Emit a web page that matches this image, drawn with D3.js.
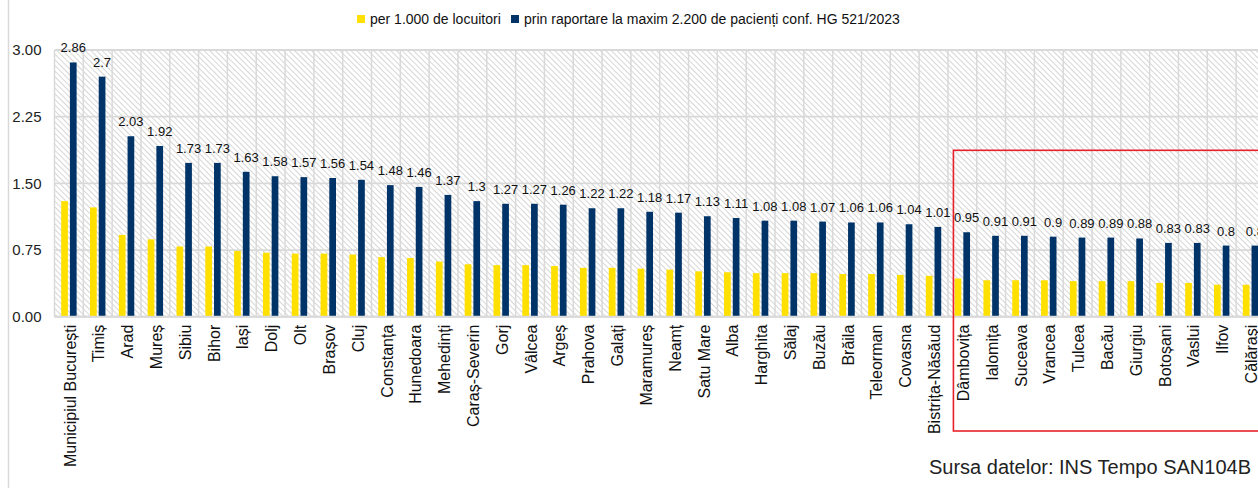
<!DOCTYPE html>
<html>
<head>
<meta charset="utf-8">
<script src="https://cdn.jsdelivr.net/npm/d3@7"></script>
<style>
  body { margin: 0; background: #fff; }
  svg { display: block; font-family: "Liberation Sans", Arial, sans-serif; }
</style>
</head>
<body>
<script>
// judete, ordonate descrescator
var categories = ["Municipiul București", "Timiș", "Arad", "Mureș", "Sibiu", "Bihor", "Iași", "Dolj", "Olt", "Brașov",
    "Cluj", "Constanța", "Hunedoara", "Mehedinți", "Caraș-Severin", "Gorj", "Vâlcea", "Argeș", "Prahova", "Galați",
    "Maramureș", "Neamț", "Satu Mare", "Alba", "Harghita", "Sălaj", "Buzău", "Brăila", "Teleorman", "Covasna",
    "Bistrița-Năsăud", "Dâmbovița", "Ialomița", "Suceava", "Vrancea", "Tulcea", "Bacău", "Giurgiu", "Botoșani", "Vaslui",
    "Ilfov", "Călărași"];

// per 1.000 de locuitori
var perThousand = [1.30, 1.23, 0.92, 0.87, 0.79, 0.79, 0.74, 0.72, 0.71, 0.71,
    0.70, 0.67, 0.66, 0.62, 0.59, 0.58, 0.58, 0.57, 0.55, 0.55,
    0.54, 0.53, 0.51, 0.50, 0.49, 0.49, 0.49, 0.48, 0.48, 0.47,
    0.46, 0.43, 0.41, 0.41, 0.41, 0.40, 0.40, 0.40, 0.38, 0.38,
    0.36, 0.36];

// prin raportare la maxim 2.200 de pacienti
var perMax = [2.86, 2.7, 2.03, 1.92, 1.73, 1.73, 1.63, 1.58, 1.57, 1.56,
    1.54, 1.48, 1.46, 1.37, 1.3, 1.27, 1.27, 1.26, 1.22, 1.22,
    1.18, 1.17, 1.13, 1.11, 1.08, 1.08, 1.07, 1.06, 1.06, 1.04,
    1.01, 0.95, 0.91, 0.91, 0.9, 0.89, 0.89, 0.88, 0.83, 0.83,
    0.8, 0.8];

var yTicks = [0, 0.75, 1.5, 2.25, 3];
var seriesNames = ["per 1.000 de locuitori", "prin raportare la maxim 2.200 de pacienți conf. HG 521/2023"];
var colors = ["#ffe000", "#003468"];

var width = 1258, height = 488;
var plotLeft = 54.5, plotTop = 50, plotBottom = 316.7, step = 28.82;

var svg = d3.select("body").append("svg")
    .attr("width", width)
    .attr("height", height);

// hasura fundal
var defs = svg.append("defs");
defs.append("pattern")
    .attr("id", "hatch")
    .attr("patternUnits", "userSpaceOnUse")
    .attr("width", 4)
    .attr("height", 4)
    .attr("patternTransform", "rotate(-45)")
    .append("line")
    .attr("x1", 0.5).attr("y1", 0).attr("x2", 0.5).attr("y2", 4)
    .attr("stroke", "#d6d6d6")
    .attr("stroke-width", 1);

var x = d3.scaleBand()
    .domain(categories)
    .range([plotLeft, plotLeft + step * categories.length])
    .padding(0);

var x1 = d3.scaleBand()
    .domain([0, 1])
    .range([6.7, x.bandwidth() - 6.7])
    .paddingInner(0.23);

var y = d3.scaleLinear()
    .domain([0, 3])
    .range([plotBottom, plotTop]);

// rama stanga
svg.append("line")
    .attr("x1", 8.5).attr("x2", 8.5)
    .attr("y1", 0).attr("y2", height)
    .attr("stroke", "#d9d9d9")
    .attr("stroke-width", 1.5);

svg.append("rect")
    .attr("x", plotLeft).attr("y", plotTop)
    .attr("width", x.range()[1] - plotLeft)
    .attr("height", plotBottom - plotTop)
    .attr("fill", "url(#hatch)");

// grila
svg.append("g")
    .selectAll("line")
    .data(yTicks)
    .enter().append("line")
    .attr("x1", plotLeft).attr("x2", x.range()[1])
    .attr("y1", function (d) { return y(d); })
    .attr("y2", function (d) { return y(d); })
    .attr("stroke", "#d9d9d9")
    .attr("stroke-width", 1.8);

svg.append("g")
    .selectAll("line")
    .data(categories)
    .enter().append("line")
    .attr("x1", function (d) { return x(d); })
    .attr("x2", function (d) { return x(d); })
    .attr("y1", plotTop).attr("y2", plotBottom)
    .attr("stroke", "#d9d9d9")
    .attr("stroke-width", 1.5);

// axa y
var yAxis = svg.append("g")
    .attr("transform", "translate(" + (plotLeft - 13) + ",0)")
    .call(d3.axisLeft(y).tickValues(yTicks).tickSize(0).tickPadding(0).tickFormat(d3.format(".2f")));
yAxis.select(".domain").remove();
yAxis.selectAll("text")
    .attr("font-size", 15)
    .attr("fill", "#222")
    .attr("font-family", "Liberation Sans, Arial, sans-serif");

// bare
var series = [perThousand, perMax];
series.forEach(function (vals, si) {
    svg.append("g")
        .selectAll("rect")
        .data(vals)
        .enter().append("rect")
        .attr("x", function (d, i) { return x(categories[i]) + x1(si); })
        .attr("y", function (d) { return y(d); })
        .attr("width", x1.bandwidth())
        .attr("height", function (d) { return y(0) - y(d); })
        .attr("fill", colors[si]);
});

// etichete valori
svg.append("g")
    .selectAll("text")
    .data(perMax)
    .enter().append("text")
    .attr("x", function (d, i) { return x(categories[i]) + x1(1) + x1.bandwidth() / 2; })
    .attr("y", function (d) { return y(d) - 10; })
    .attr("text-anchor", "middle")
    .attr("font-size", 13)
    .attr("fill", "#111")
    .text(function (d) { return String(d); });

// axa x
svg.append("line")
    .attr("x1", plotLeft).attr("x2", x.range()[1])
    .attr("y1", plotBottom).attr("y2", plotBottom)
    .attr("stroke", "#d9d9d9")
    .attr("stroke-width", 2);

svg.append("g")
    .selectAll("text")
    .data(categories)
    .enter().append("text")
    .attr("transform", function (d) {
        return "translate(" + (x(d) + x.bandwidth() / 2 + 1) + "," + (plotBottom + 8) + ") rotate(-90)";
    })
    .attr("dy", "0.35em")
    .attr("text-anchor", "end")
    .attr("font-size", 16)
    .attr("fill", "#111")
    .text(function (d) { return d; });

// legenda
var legend = svg.append("g");
var lx = [357, 511];
seriesNames.forEach(function (name, i) {
    legend.append("rect")
        .attr("x", lx[i]).attr("y", 15)
        .attr("width", 8).attr("height", 8)
        .attr("fill", colors[i]);
    legend.append("text")
        .attr("x", lx[i] + 13).attr("y", 24)
        .attr("font-size", 14)
        .attr("fill", "#111")
        .text(name);
});

// chenar rosu
svg.append("rect")
    .attr("x", x("Dâmbovița") + 5.5)
    .attr("y", 150.3)
    .attr("width", 400)
    .attr("height", 280.7)
    .attr("fill", "none")
    .attr("stroke", "#e8202a")
    .attr("stroke-width", 1.6);

// sursa
svg.append("text")
    .attr("x", 1251).attr("y", 474)
    .attr("text-anchor", "end")
    .attr("font-size", 20)
    .attr("fill", "#222")
    .text("Sursa datelor: INS Tempo SAN104B");
</script>
</body>
</html>
